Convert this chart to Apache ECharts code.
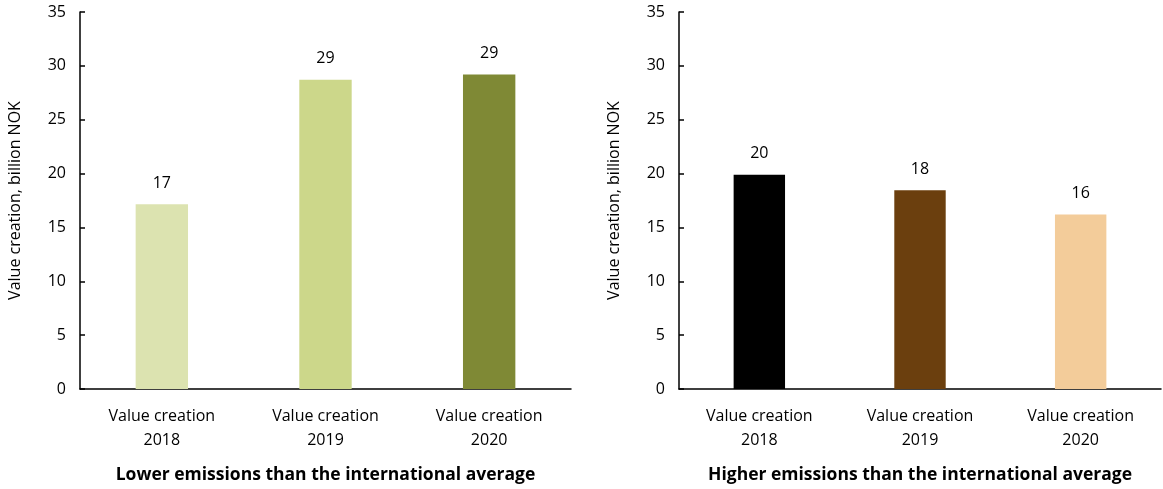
<!DOCTYPE html>
<html>
<head>
<meta charset="utf-8">
<script src="https://cdn.jsdelivr.net/npm/echarts@6/dist/echarts.min.js"></script>
<style>html,body{margin:0;padding:0;background:#fff}#c{width:1163px;height:489px}</style>
</head>
<body>
<div id="c"></div>
<script>
const categories = ['Value creation\n2018', 'Value creation\n2019', 'Value creation\n2020'];
const lowerValues = [17.15, 28.7, 29.2];
const higherValues = [19.9, 18.45, 16.2];
const lowerColors = ['#dce3b0', '#ccd78a', '#7f8935'];
const higherColors = ['#000000', '#6b3f0e', '#f3cc9a'];
const yTicks = { min: 0, max: 35, interval: 5 };
const panelTitles = ['Lower emissions than the international average', 'Higher emissions than the international average'];
const yTitle = 'Value creation, billion NOK';

const FONT = 'Open Sans';
const chart = echarts.init(document.getElementById('c'));

function xAxis(idx, title) {
  return {
    type: 'category', gridIndex: idx, data: categories,
    axisLine: { lineStyle: { color: '#000', width: 1.5 } },
    axisTick: { inside: true, length: 5, lineStyle: { color: '#000', width: 1.5 } },
    axisLabel: { color: '#000', fontFamily: FONT, fontSize: 16, lineHeight: 24, margin: 15 },
    name: title, nameLocation: 'middle', nameGap: 77,
    nameTextStyle: { color: '#000', fontFamily: FONT, fontSize: 17.5, fontWeight: 'bold' }
  };
}
function yAxis(idx) {
  return {
    type: 'value', gridIndex: idx, min: yTicks.min, max: yTicks.max, interval: yTicks.interval,
    splitLine: { show: false },
    axisLine: { show: true, lineStyle: { color: '#000', width: 1.5 } },
    axisTick: { show: true, inside: true, length: 5, lineStyle: { color: '#000', width: 1.5 } },
    axisLabel: { color: '#000', fontFamily: FONT, fontSize: 16, margin: 14 },
    name: yTitle, nameLocation: 'middle', nameGap: 57, nameRotate: 90,
    nameTextStyle: { color: '#000', fontFamily: FONT, fontSize: 16 }
  };
}
function series(idx, vals, colors) {
  return {
    type: 'bar', xAxisIndex: idx, yAxisIndex: idx, barWidth: '32%',
    data: vals.map((v, i) => ({ value: v, itemStyle: { color: colors[i] } })),
    label: { show: true, position: 'top', distance: 13, color: '#000', fontFamily: FONT, fontSize: 16,
      formatter: p => Math.round(p.value) },
    animation: false
  };
}

chart.setOption({
  animation: false,
  grid: [
    { left: 80, top: 12, width: 491, height: 381 },
    { left: 679, top: 12, width: 482, height: 381 }
  ],
  xAxis: [xAxis(0, panelTitles[0]), xAxis(1, panelTitles[1])],
  yAxis: [yAxis(0), yAxis(1)],
  series: [series(0, lowerValues, lowerColors), series(1, higherValues, higherColors)]
});
</script>
</body>
</html>
